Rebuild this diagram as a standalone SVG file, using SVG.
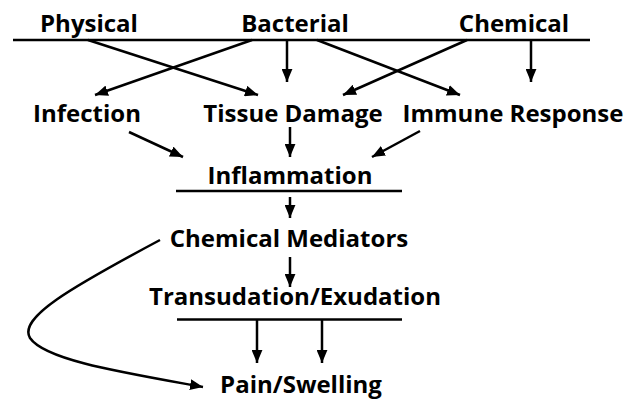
<svg xmlns="http://www.w3.org/2000/svg" width="637" height="404" viewBox="0 0 637 404">
<style>
text{font-family:"Open Sans","DejaVu Sans","Liberation Sans",sans-serif;font-weight:bold;font-size:24px;fill:#000;text-anchor:middle}
.ln{stroke:#000;stroke-width:2.5;fill:none}
.ar{stroke:#000;stroke-width:2.5;fill:none;marker-end:url(#ah)}
</style>
<defs>
<marker id="ah" markerUnits="userSpaceOnUse" viewBox="0 0 12 10" refX="12" refY="5" markerWidth="13" markerHeight="11" orient="auto">
<path d="M0,0 L12,5 L0,10 Z" fill="#000"/>
</marker>
</defs>
<rect width="637" height="404" fill="#fff"/>
<g id="physical"><text x="89" y="32">Physical</text></g>
<g id="bacterial"><text x="295" y="32">Bacterial</text></g>
<g id="chemical"><text x="514" y="32">Chemical</text></g>
<g id="infection"><text x="87" y="122">Infection</text></g>
<g id="tissue-damage"><text x="293" y="122">Tissue Damage</text></g>
<g id="immune-response"><text x="513" y="122">Immune Response</text></g>
<g id="inflammation"><text x="290" y="184">Inflammation</text><line class="ln" x1="176" y1="191" x2="402" y2="191"/></g>
<g id="chemical-mediators"><text x="289" y="247">Chemical Mediators</text></g>
<g id="transudation"><text x="295" y="305">Transudation/Exudation</text><line class="ln" x1="177" y1="319.5" x2="402" y2="319.5" stroke-width="2"/></g>
<g id="pain-swelling"><text x="301" y="393">Pain/Swelling</text></g>
<g id="connectors">
<line class="ln" x1="13" y1="40" x2="590" y2="40"/>
<line class="ar" x1="88" y1="40" x2="258" y2="95"/>
<line class="ar" x1="252" y1="40" x2="95" y2="95"/>
<line class="ar" x1="287" y1="40" x2="287" y2="82"/>
<line class="ar" x1="317" y1="40" x2="460" y2="95"/>
<line class="ar" x1="467" y1="40" x2="343" y2="95"/>
<line class="ar" x1="531" y1="40" x2="531" y2="82"/>
<line class="ar" x1="129" y1="132" x2="183" y2="157"/>
<line class="ar" x1="290" y1="127" x2="290" y2="157"/>
<line class="ar" x1="420" y1="131" x2="372" y2="157"/>
<line class="ar" x1="290" y1="197" x2="290" y2="218"/>
<line class="ar" x1="290" y1="257" x2="290" y2="287"/>
<line class="ar" x1="257" y1="320" x2="257" y2="363"/>
<line class="ar" x1="322" y1="320" x2="322" y2="363"/>
<path class="ar" d="M160,240 C70,288 18,318 30,338 C45,360 120,372 203,387"/>
</g>
</svg>
